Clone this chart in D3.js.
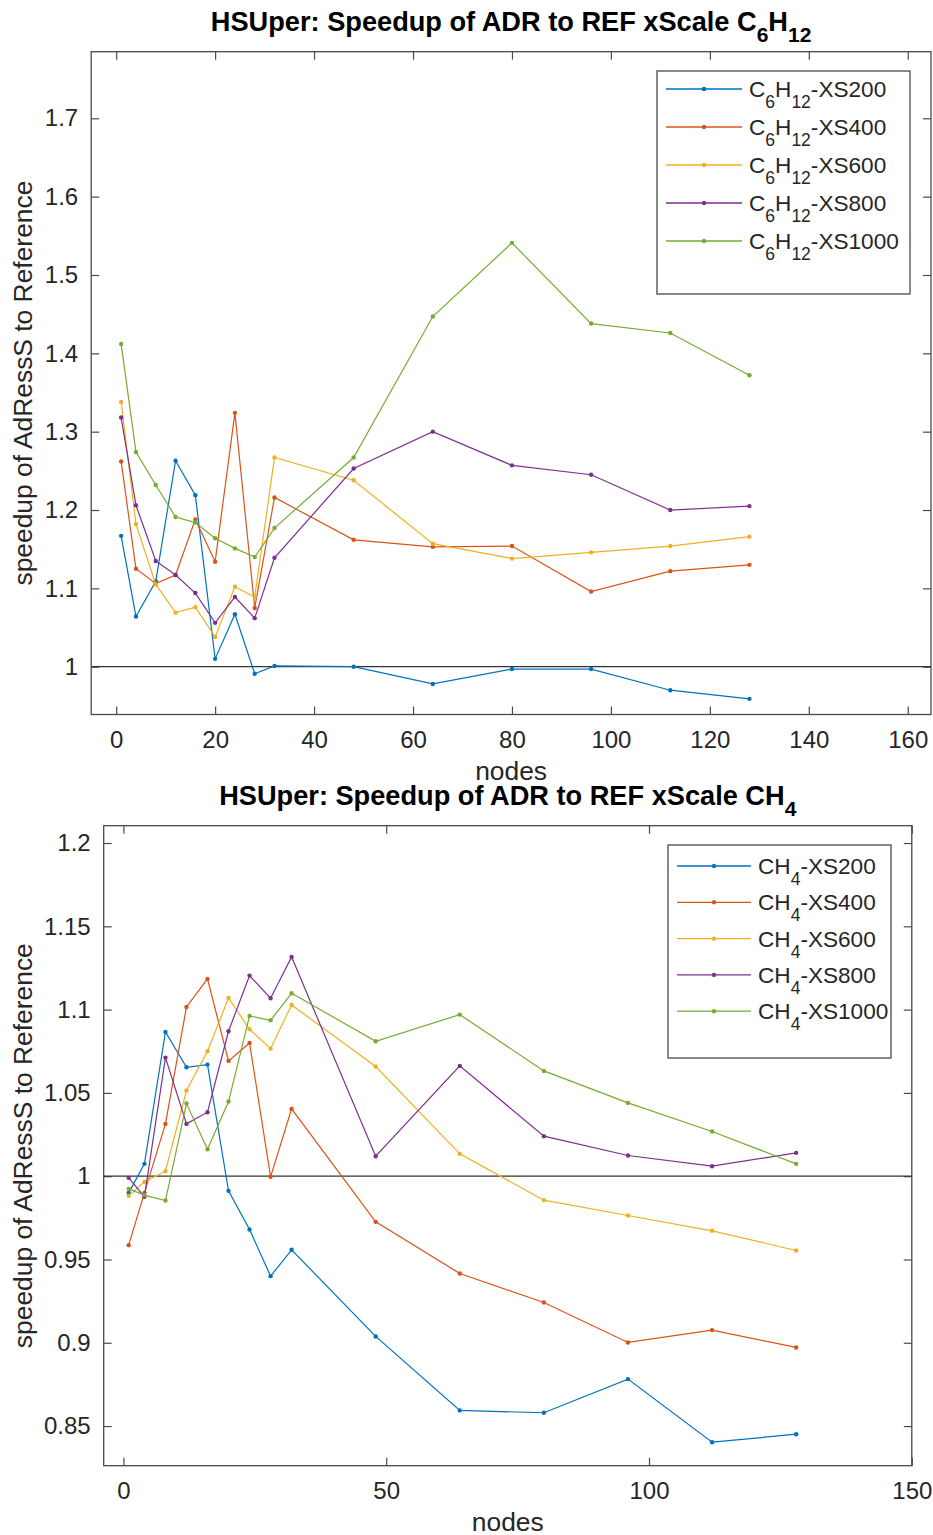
<!DOCTYPE html>
<html>
<head>
<meta charset="utf-8">
<script src="https://cdn.jsdelivr.net/npm/d3@7"></script>
<style>
  body { margin: 0; background: #fff; }
  text { font-family: "Liberation Sans", Arial, sans-serif; fill: #262626; }
  .titulo { font-weight: bold; fill: #000; }
  .eixo text { font-size: 24px; }
</style>
</head>
<body>
<svg id="grafico"></svg>
<script>
// node counts (x) shared by both panels
const nodes = [1, 4, 8, 12, 16, 20, 24, 28, 32, 48, 64, 80, 96, 112, 128];

// C6H12 speedups
const c6h12XS200  = [1.167, 1.064, 1.109, 1.263, 1.219, 1.010, 1.067, 0.991, 1.001, 1.000, 0.978, 0.997, 0.997, 0.970, 0.959];
const c6h12XS400  = [1.262, 1.125, 1.106, 1.117, 1.188, 1.134, 1.324, 1.075, 1.216, 1.162, 1.153, 1.154, 1.096, 1.122, 1.130];
const c6h12XS600  = [1.338, 1.182, 1.105, 1.069, 1.076, 1.038, 1.102, 1.089, 1.267, 1.238, 1.157, 1.138, 1.146, 1.154, 1.166];
const c6h12XS800  = [1.318, 1.206, 1.135, 1.117, 1.094, 1.056, 1.089, 1.062, 1.139, 1.253, 1.300, 1.257, 1.245, 1.200, 1.205];
const c6h12XS1000 = [1.412, 1.274, 1.232, 1.191, 1.184, 1.164, 1.151, 1.140, 1.177, 1.267, 1.447, 1.541, 1.438, 1.426, 1.372];

// CH4 speedups
const ch4XS200  = [0.990, 1.0074, 1.0866, 1.0654, 1.067, 0.9912, 0.968, 0.940, 0.9558, 0.9038, 0.8594, 0.8580, 0.8782, 0.8403, 0.8451];
const ch4XS400  = [0.9586, 0.990, 1.0314, 1.1016, 1.1184, 1.0692, 1.080, 0.9996, 1.0404, 0.9726, 0.9416, 0.9242, 0.9002, 0.9076, 0.8972];
const ch4XS600  = [0.9882, 0.9966, 1.003, 1.0514, 1.075, 1.107, 1.0882, 1.0766, 1.1028, 1.0658, 1.0134, 0.9856, 0.9764, 0.9672, 0.9554];
const ch4XS800  = [0.999, 0.9876, 1.0712, 1.0314, 1.0384, 1.087, 1.1204, 1.1068, 1.1316, 1.012, 1.0662, 1.024, 1.0124, 1.006, 1.014];
const ch4XS1000 = [0.9924, 0.9886, 0.9854, 1.0436, 1.0162, 1.0448, 1.0962, 1.0936, 1.1098, 1.081, 1.097, 1.0632, 1.044, 1.0268, 1.0074];

const sizes = ['XS200', 'XS400', 'XS600', 'XS800', 'XS1000'];
const topTicksX = [0, 20, 40, 60, 80, 100, 120, 140, 160];
const topTicksY = [1, 1.1, 1.2, 1.3, 1.4, 1.5, 1.6, 1.7];
const bottomTicksX = [0, 50, 100, 150];
const bottomTicksY = [0.85, 0.9, 0.95, 1, 1.05, 1.1, 1.15, 1.2];

const colors = ['#0072BD', '#D95319', '#EDB120', '#7E2F8E', '#77AC30'];

const svg = d3.select('#grafico').attr('width', 933).attr('height', 1535);

// writes "C<sub>6</sub>H<sub>12</sub>..." style text as tspans
function formula(sel, parts, subSize, shift) {
  parts.forEach(p => {
    const t = sel.append('tspan').text(p.t);
    if (p.sub) t.attr('dy', shift).style('font-size', subSize + 'px');
    else if (p.back) t.attr('dy', -shift);
  });
}

function Painel(p) {
  const g = svg.append('g');
  const x = d3.scaleLinear().domain(p.dominioX).range([p.esquerda, p.direita]);
  const y = d3.scaleLinear().domain(p.dominioY).range([p.inferior, p.superior]);
  const fmt = d => String(+d.toFixed(2));

  // box
  g.append('rect')
      .attr('x', p.esquerda).attr('y', p.superior)
      .attr('width', p.direita - p.esquerda).attr('height', p.inferior - p.superior)
      .attr('fill', 'none').attr('stroke', '#4a4a4a').attr('stroke-width', 1.3);

  // axes, ticks pointing inward on all four sides
  const tk = 8;
  g.append('g').attr('class', 'eixo').attr('transform', `translate(0,${p.inferior})`)
      .call(d3.axisBottom(x).tickValues(p.ticksX).tickSize(-tk).tickPadding(16).tickFormat(fmt));
  g.append('g').attr('class', 'eixo').attr('transform', `translate(0,${p.superior})`)
      .call(d3.axisTop(x).tickValues(p.ticksX).tickSize(-tk).tickFormat(''));
  g.append('g').attr('class', 'eixo').attr('transform', `translate(${p.esquerda},0)`)
      .call(d3.axisLeft(y).tickValues(p.ticksY).tickSize(-tk).tickPadding(13).tickFormat(fmt));
  g.append('g').attr('class', 'eixo').attr('transform', `translate(${p.direita},0)`)
      .call(d3.axisRight(y).tickValues(p.ticksY).tickSize(-tk).tickFormat(''));
  g.selectAll('.eixo .domain').remove();
  g.selectAll('.eixo line').attr('stroke', '#4a4a4a').attr('stroke-width', 1.2);
  g.selectAll('.eixo text').attr('fill', '#262626');

  // reference line at speedup 1
  g.append('line')
      .attr('x1', p.esquerda).attr('x2', p.direita)
      .attr('y1', y(1)).attr('y2', y(1))
      .attr('stroke', '#333').attr('stroke-width', 1.2);

  // series
  const line = d3.line().x((d, i) => x(nodes[i])).y(d => y(d));
  p.series.forEach((s, k) => {
    g.append('path').datum(s)
        .attr('d', line).attr('fill', 'none')
        .attr('stroke', colors[k]).attr('stroke-width', 1.2);
    g.selectAll(null).data(s).enter().append('circle')
        .attr('cx', (d, i) => x(nodes[i])).attr('cy', d => y(d))
        .attr('r', 2.2).attr('fill', colors[k]);
  });

  // axis titles
  const cx = (p.esquerda + p.direita) / 2;
  g.append('text').attr('x', cx).attr('y', p.inferior + 65)
      .attr('text-anchor', 'middle').style('font-size', '26.4px').text('nodes');
  g.append('text')
      .attr('transform', `translate(32,${(p.superior + p.inferior) / 2}) rotate(-90)`)
      .attr('text-anchor', 'middle').style('font-size', '26.4px')
      .text('speedup of AdRessS to Reference');

  // plot title
  const t = g.append('text').attr('class', 'titulo').attr('x', cx).attr('y', p.superior - 21)
      .attr('text-anchor', 'middle').style('font-size', '27.2px');
  formula(t, p.titulo, 21, 11);

  // legend
  const L = p.legenda;
  g.append('rect').attr('x', L.x).attr('y', L.y).attr('width', L.w).attr('height', L.h)
      .attr('fill', '#fff').attr('stroke', '#4a4a4a').attr('stroke-width', 1.3);
  sizes.forEach((nome, k) => {
    const ly = L.y + L.primeira + k * L.passo;
    g.append('line').attr('x1', L.x + 9).attr('x2', L.x + 9 + L.linha)
        .attr('y1', ly).attr('y2', ly).attr('stroke', colors[k]).attr('stroke-width', 1.3);
    g.append('circle').attr('cx', L.x + 9 + L.linha / 2).attr('cy', ly).attr('r', 2.2).attr('fill', colors[k]);
    const lt = g.append('text').attr('x', L.x + 16 + L.linha).attr('y', ly + 8).style('font-size', '22.6px');
    formula(lt, p.rotulo(nome), 17.5, 11);
  });
}

new Painel({
  esquerda: 91.2, direita: 931, superior: 51.7, inferior: 714.5,
  dominioX: [-5.05, 164.7], dominioY: [0.939, 1.785],
  ticksX: topTicksX, ticksY: topTicksY,
  series: [c6h12XS200, c6h12XS400, c6h12XS600, c6h12XS800, c6h12XS1000],
  titulo: [{t: 'HSUper: Speedup of ADR to REF xScale C'}, {t: '6', sub: true}, {t: 'H', back: true}, {t: '12', sub: true}],
  rotulo: n => [{t: 'C'}, {t: '6', sub: true}, {t: 'H', back: true}, {t: '12', sub: true}, {t: '-' + n, back: true}],
  legenda: {x: 657, y: 71, w: 253, h: 223, primeira: 18, passo: 38, linha: 76}
});

new Painel({
  esquerda: 103.7, direita: 911.8, superior: 825.7, inferior: 1465.7,
  dominioX: [-3.75, 150], dominioY: [0.8262, 1.2104],
  ticksX: bottomTicksX, ticksY: bottomTicksY,
  series: [ch4XS200, ch4XS400, ch4XS600, ch4XS800, ch4XS1000],
  titulo: [{t: 'HSUper: Speedup of ADR to REF xScale CH'}, {t: '4', sub: true}],
  rotulo: n => [{t: 'CH'}, {t: '4', sub: true}, {t: '-' + n, back: true}],
  legenda: {x: 668, y: 845, w: 223, h: 213, primeira: 21, passo: 36.3, linha: 74}
});
</script>
</body>
</html>
